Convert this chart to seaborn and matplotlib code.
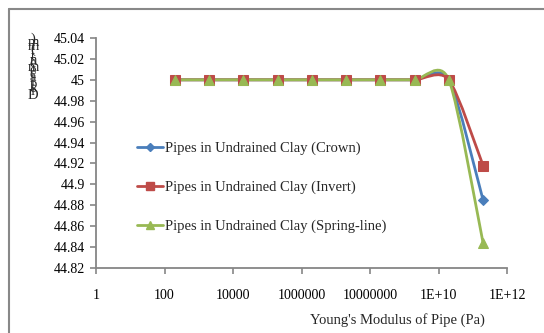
import numpy as np
import pandas as pd
import matplotlib
matplotlib.use("Agg")
import matplotlib.pyplot as plt
import seaborn as sns
from matplotlib.path import Path
from matplotlib.patches import PathPatch
from matplotlib.lines import Line2D

# ---- data ----
modulus = [2e2, 2e3, 2e4, 2e5, 2e6, 2e7, 2e8, 2e9, 2e10, 2e11]
crown = [45.0, 45.0, 45.0, 45.0, 45.0, 45.0, 45.0, 45.0, 45.0, 44.885]
invert = [45.0, 45.0, 45.0, 45.0, 45.0, 45.0, 45.0, 45.0, 45.0, 44.918]
spring = [45.0, 45.0, 45.0, 45.0, 45.0, 45.0, 45.0, 45.0, 45.0, 44.844]
series_names = ["Pipes in Undrained Clay (Crown)",
                "Pipes in Undrained Clay (Invert)",
                "Pipes in Undrained Clay (Spring-line)"]
x_ticks = [1, 1e2, 1e4, 1e6, 1e8, 1e10, 1e12]
x_tick_labels = ["1", "100", "10000", "1000000", "10000000", "1E+10", "1E+12"]
y_ticks = [44.82, 44.84, 44.86, 44.88, 44.9, 44.92, 44.94, 44.96, 44.98, 45.0, 45.02, 45.04]
y_tick_labels = ["44.82", "44.84", "44.86", "44.88", "44.9", "44.92", "44.94",
                 "44.96", "44.98", "45", "45.02", "45.04"]
x_label = "Young's Modulus of Pipe (Pa)"
y_label = "Displacement (mm)"

colors = ["#4A7EBB", "#BE4B48", "#98B954"]
markers = ["D", "s", "^"]
msizes = [5, 6.5, 7]

df = pd.DataFrame({
    "E": modulus * 3,
    "d": crown + invert + spring,
    "series": [series_names[0]] * len(modulus) + [series_names[1]] * len(modulus)
              + [series_names[2]] * len(modulus),
})

sns.set_theme(style="white")
plt.rcParams["font.family"] = ["Liberation Serif", "DejaVu Serif"]

W, H = 544, 333
fig = plt.figure(figsize=(W / 100, H / 100), dpi=100)
ax = fig.add_axes([96 / W, 1 - 268 / H, (507 - 96) / W, (268 - 38) / H])
ax.set_xscale("log")

TENSION = 1 / 7.5


def smooth_path(xs, ys):
    lx = np.log10(np.asarray(xs, float))
    y = np.asarray(ys, float)
    n = len(lx)
    verts = [(xs[0], y[0])]
    codes = [Path.MOVETO]
    for i in range(n - 1):
        p0 = max(i - 1, 0)
        p3 = min(i + 2, n - 1)
        c1x = lx[i] + (lx[i + 1] - lx[p0]) * TENSION
        c1y = y[i] + (y[i + 1] - y[p0]) * TENSION
        c2x = lx[i + 1] - (lx[p3] - lx[i]) * TENSION
        c2y = y[i + 1] - (y[p3] - y[i]) * TENSION
        verts += [(10 ** c1x, c1y), (10 ** c2x, c2y), (xs[i + 1], y[i + 1])]
        codes += [Path.CURVE4] * 3
    return Path(verts, codes)


for name, col in zip(series_names, colors):
    sub = df[df["series"] == name]
    p = smooth_path(list(sub["E"]), list(sub["d"]))
    ax.add_patch(PathPatch(p, transform=ax.transData, facecolor="none",
                           edgecolor=col, lw=2.0, zorder=2))

for name, col, mk, ms in zip(series_names, colors, markers, msizes):
    sub = df[df["series"] == name]
    sns.lineplot(data=sub, x="E", y="d", ax=ax, color=col, marker=mk,
                 markersize=ms, markeredgecolor=col, linestyle="", lw=0,
                 legend=False, zorder=3)

ax.set_xlim(1, 1e12)
ax.set_ylim(44.82, 45.04)
ax.set_xticks(x_ticks)
ax.set_xticklabels(x_tick_labels)
ax.minorticks_off()
ax.set_yticks(y_ticks)
ax.set_yticklabels(y_tick_labels)
ax.set_xlabel("")
ax.set_ylabel("")

for s in ["top", "right"]:
    ax.spines[s].set_visible(False)
for s in ["left", "bottom"]:
    ax.spines[s].set_color("#868686")
    ax.spines[s].set_linewidth(1.3)
ax.tick_params(axis="x", direction="out", length=4, width=1.2, color="#868686",
               pad=11, labelsize=10, labelcolor="black", bottom=True)
ax.tick_params(axis="y", direction="out", length=4, width=1.2, color="#868686",
               pad=4, labelsize=10, labelcolor="black", left=True)
ax.grid(False)
ax.patch.set_alpha(0)

handles = [Line2D([], [], color=c, marker=m, markersize=ms * 0.8, lw=2)
           for c, m, ms in zip(colors, markers, msizes)]
fig.legend(handles, series_names, loc="upper left",
           bbox_to_anchor=(137 / W, 1 - 142 / H), frameon=False,
           fontsize=10.5, handlelength=1.8, handletextpad=0.15,
           labelspacing=1.75, borderpad=0, borderaxespad=0)

fig.text(397 / W, 1 - 320 / H, x_label, ha="center", va="center", fontsize=10.5)

# stacked, upright y-axis title (reads bottom-to-top), one text object
fig.text(33 / W, 1 - 67 / H, "\n".join(reversed(y_label)), ha="center",
         va="center", fontsize=10.5, linespacing=0.05)

# outer chart border
fig.add_artist(Line2D([9 / W, 1], [1 - 9 / H, 1 - 9 / H], color="#888888", lw=1.5,
                      transform=fig.transFigure))
fig.add_artist(Line2D([9 / W, 9 / W], [0, 1 - 9 / H], color="#888888", lw=1.5,
                      transform=fig.transFigure))

fig.savefig("out.png", dpi=100, facecolor="white")
